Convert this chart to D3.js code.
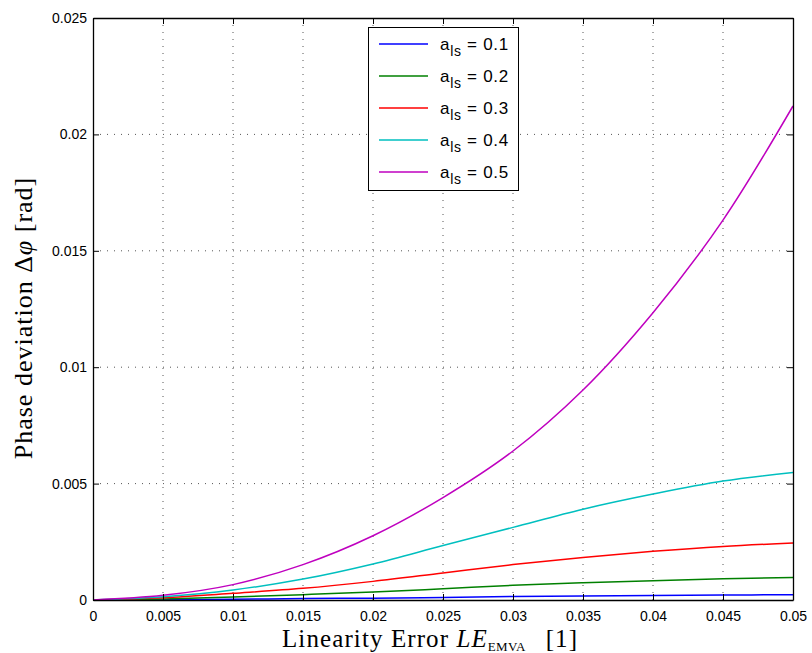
<!DOCTYPE html>
<html>
<head>
<meta charset="utf-8">
<script src="https://cdn.jsdelivr.net/npm/d3@7"></script>
<style>
  html, body { margin: 0; padding: 0; background: #fff; }
  svg { display: block; }
</style>
</head>
<body>
<svg id="chart" width="812" height="653"></svg>
<script>
// ---- data ----
const xValues = [0, 0.005, 0.01, 0.015, 0.02, 0.025, 0.03, 0.035, 0.04, 0.045, 0.05];
const seriesNames = ["0.1", "0.2", "0.3", "0.4", "0.5"];
const als01 = [0, 0.00001, 0.00003, 0.00006, 0.00008, 0.00011, 0.00015, 0.00017, 0.00019, 0.00021, 0.00023];
const als02 = [0, 0.00004, 0.00013, 0.00023, 0.00034, 0.00048, 0.00063, 0.00074, 0.00083, 0.00091, 0.00097];
const als03 = [0, 0.00010, 0.00029, 0.00050, 0.00080, 0.00116, 0.00152, 0.00183, 0.00209, 0.00230, 0.00245];
const als04 = [0, 0.00014, 0.00043, 0.00090, 0.00155, 0.00234, 0.00312, 0.00390, 0.00455, 0.00511, 0.00548];
const als05 = [0, 0.00020, 0.00066, 0.00152, 0.00276, 0.00440, 0.00640, 0.00902, 0.01234, 0.01632, 0.02122];
const xTicks = [0, 0.005, 0.01, 0.015, 0.02, 0.025, 0.03, 0.035, 0.04, 0.045, 0.05];
const xTickLabels = ["0", "0.005", "0.01", "0.015", "0.02", "0.025", "0.03", "0.035", "0.04", "0.045", "0.05"];
const yTicks = [0, 0.005, 0.01, 0.015, 0.02, 0.025];
const yTickLabels = ["0", "0.005", "0.01", "0.015", "0.02", "0.025"];
const colors = ["#0000ff", "#008000", "#ff0000", "#00bfbf", "#bf00bf"];

const allSeries = [als01, als02, als03, als04, als05];

// ---- layout ----
const L = 93, R = 793, T = 18, B = 600;
const svg = d3.select("#chart");
const x = d3.scaleLinear().domain([0, 0.05]).range([L, R]);
const y = d3.scaleLinear().domain([0, 0.025]).range([B, T]);

// grid
const grid = svg.append("g");
grid.selectAll("line.gx").data(xTicks.slice(1, -1)).enter().append("line")
  .attr("x1", d => x(d)).attr("x2", d => x(d)).attr("y1", T).attr("y2", B)
  .attr("stroke", "#555").attr("stroke-width", 1).attr("stroke-dasharray", "1,6");
grid.selectAll("line.gy").data(yTicks.slice(1, -1)).enter().append("line")
  .attr("y1", d => y(d)).attr("y2", d => y(d)).attr("x1", L).attr("x2", R)
  .attr("stroke", "#555").attr("stroke-width", 1).attr("stroke-dasharray", "1,6");

// lines
const line = d3.line().x((d, i) => x(xValues[i])).y(d => y(d)).curve(d3.curveCatmullRom.alpha(0.5));
svg.append("g").selectAll("path").data(allSeries).enter().append("path")
  .attr("d", d => line(d)).attr("fill", "none")
  .attr("stroke", (d, i) => colors[i]).attr("stroke-width", 1.5);

// axes (ticks inward)
const fmtX = d => xTickLabels[xTicks.indexOf(d)];
const fmtY = d => yTickLabels[yTicks.indexOf(d)];
const axB = svg.append("g").attr("transform", `translate(0,${B})`)
  .call(d3.axisBottom(x).tickValues(xTicks).tickFormat(fmtX).tickSizeInner(-6).tickSizeOuter(0).tickPadding(11));
const axT = svg.append("g").attr("transform", `translate(0,${T})`)
  .call(d3.axisTop(x).tickValues(xTicks).tickFormat("").tickSizeInner(-6).tickSizeOuter(0));
const axL = svg.append("g").attr("transform", `translate(${L},0)`)
  .call(d3.axisLeft(y).tickValues(yTicks).tickFormat(fmtY).tickSizeInner(-6).tickSizeOuter(0).tickPadding(6));
const axR = svg.append("g").attr("transform", `translate(${R},0)`)
  .call(d3.axisRight(y).tickValues(yTicks).tickFormat("").tickSizeInner(-6).tickSizeOuter(0));
[axB, axT, axL, axR].forEach(a => {
  a.select(".domain").attr("stroke", "#000").attr("stroke-width", 1.3);
  a.selectAll(".tick line").attr("stroke", "#000").attr("stroke-width", 1);
  a.selectAll("text").attr("font-family", "'Liberation Sans', Arial, sans-serif")
    .attr("font-size", 14).attr("fill", "#000");
});

// legend
const lg = svg.append("g");
lg.append("rect").attr("x", 368.5).attr("y", 27.5).attr("width", 150).attr("height", 163)
  .attr("fill", "#fff").attr("stroke", "#000").attr("stroke-width", 1);
const rowY = i => 44 + i * 32;
seriesNames.forEach((name, i) => {
  lg.append("line").attr("x1", 379).attr("x2", 428).attr("y1", rowY(i)).attr("y2", rowY(i))
    .attr("stroke", colors[i]).attr("stroke-width", 1.5);
  const t = lg.append("text").attr("x", 440).attr("y", rowY(i) + 6)
    .attr("font-family", "'Liberation Sans', Arial, sans-serif").attr("font-size", 17)
    .attr("letter-spacing", 0.7).attr("fill", "#000");
  t.append("tspan").text("a");
  t.append("tspan").attr("font-size", 14).attr("dy", 6).text("ls");
  t.append("tspan").attr("dy", -6).text(" = " + name);
});

// axis labels
const xl = svg.append("text").attr("x", 282).attr("y", 647)
  .attr("font-family", "'Liberation Serif', 'Times New Roman', serif").attr("font-size", 25)
  .attr("letter-spacing", 1.1).attr("fill", "#000");
xl.append("tspan").text("Linearity Error ");
xl.append("tspan").attr("font-style", "italic").text("LE");
xl.append("tspan").attr("font-size", 13).attr("dy", 4).attr("letter-spacing", 0.3).text("EMVA");
xl.append("tspan").attr("dy", -4).attr("dx", 20).text("[1]");

svg.append("text").attr("transform", "translate(32,318) rotate(-90)")
  .attr("text-anchor", "middle")
  .attr("font-family", "'Liberation Serif', 'Times New Roman', serif").attr("font-size", 26)
  .attr("letter-spacing", 1).attr("fill", "#000")
  .html("Phase deviation Δ<tspan font-style='italic'>φ</tspan> [rad]");
</script>
</body>
</html>
